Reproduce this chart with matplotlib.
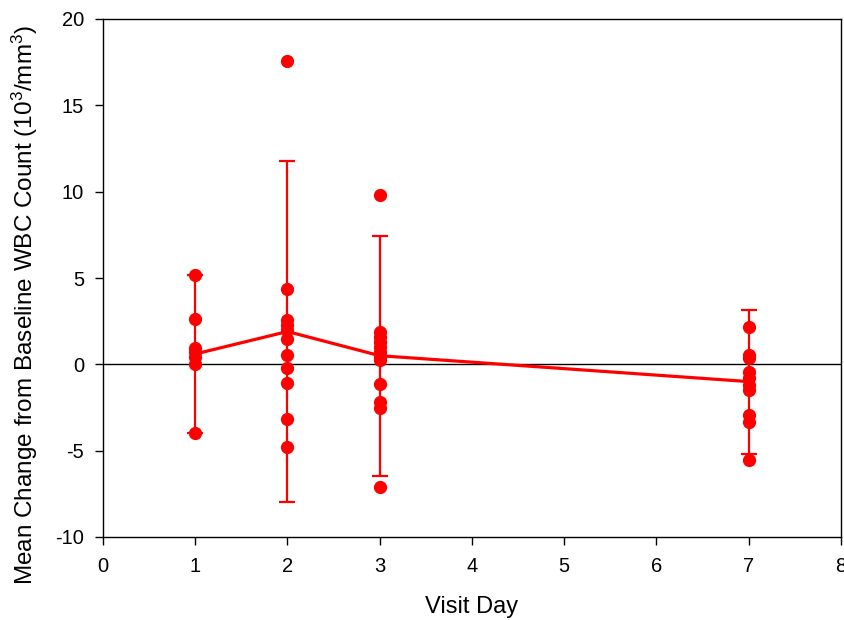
import matplotlib
matplotlib.use("Agg")
import matplotlib.pyplot as plt

plt.rcParams['font.family'] = ['Liberation Sans', 'DejaVu Sans']
plt.rcParams['mathtext.default'] = 'regular'
plt.rcParams['axes.unicode_minus'] = False

# Data
visit_days = [1, 2, 3, 7]
mean_change = [0.6, 1.9, 0.5, -1.0]
sd_change = [4.6, 9.85, 6.96, 4.17]

day1_values = [5.17, 2.6, 0.95, 0.7, 0.45, 0.0, -4.0]
day2_values = [17.58, 4.34, 2.56, 2.3, 2.0, 1.45, 0.54, -0.23, -1.06, -3.17, -4.77]
day3_values = [9.8, 1.89, 1.6, 1.31, 1.02, 0.73, 0.44, 0.25, -1.16, -2.16, -2.55, -7.09]
day7_values = [2.18, 0.54, 0.35, -0.43, -0.81, -1.2, -1.49, -2.94, -3.32, -5.54]
individual = [day1_values, day2_values, day3_values, day7_values]

x_ticks = [0, 1, 2, 3, 4, 5, 6, 7, 8]
y_ticks = [-10, -5, 0, 5, 10, 15, 20]

red = '#ff0000'

fig = plt.figure(figsize=(8.45, 6.2), dpi=100)
ax = fig.add_axes([103/845, 1-537/620, (841-103)/845, (537-19)/620])

ax.axhline(0, color='black', lw=1.0, zorder=1)

for d, vals in zip(visit_days, individual):
    ax.plot([d]*len(vals), vals, linestyle='none', marker='o', ms=8.5,
            color=red, mec=red, zorder=3)

ax.errorbar(visit_days, mean_change, yerr=sd_change, color=red, lw=2.3,
            elinewidth=1.6, capsize=6, capthick=1.6, zorder=2)

ax.set_xlim(0, 8)
ax.set_ylim(-10, 20)
ax.set_xticks(x_ticks)
ax.set_yticks(y_ticks)
ax.tick_params(direction='out', length=5.5, width=1, labelsize=14.5)
ax.tick_params(axis='x', pad=9)
ax.tick_params(axis='y', pad=8)
for s in ax.spines.values():
    s.set_linewidth(1.0)

ax.set_xlabel('Visit Day', fontsize=17, labelpad=14)
ax.set_ylabel('Mean Change from Baseline WBC Count (10$^3$/mm$^3$)', fontsize=17.5)
ax.yaxis.set_label_coords((40-103)/738, (537-305)/518)

fig.savefig('out.png', dpi=100)
